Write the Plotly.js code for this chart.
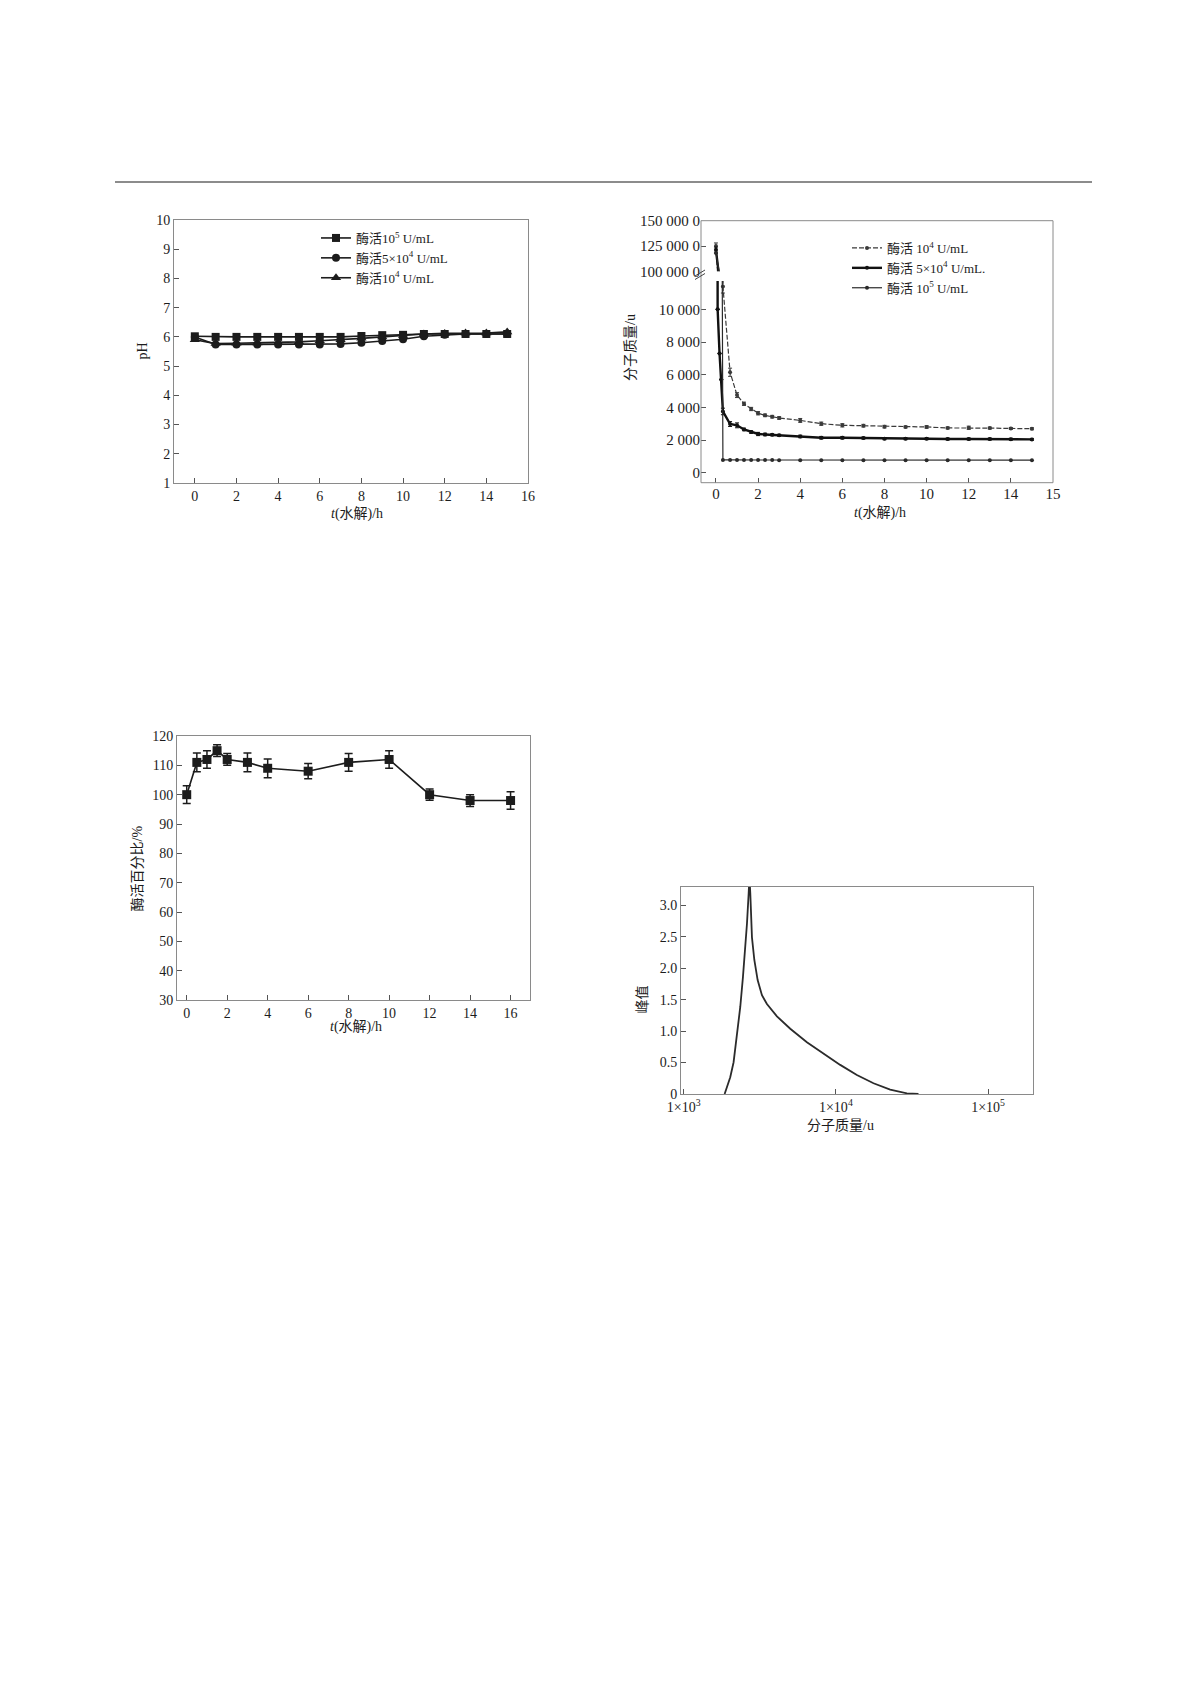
<!DOCTYPE html>
<html>
<head>
<meta charset="utf-8">
<script src="https://cdn.plot.ly/plotly-3.0.1.min.js"></script>
<style>
  html, body { margin: 0; padding: 0; background: #fff; }
  #page { width: 1197px; height: 1693px; }
</style>
</head>
<body>
<div id="page"></div>
<script>
// ---- values ----

// pH during hydrolysis, three enzyme dosages
const phHours = [0, 1, 2, 3, 4, 5, 6, 7, 8, 9, 10, 11, 12, 13, 14, 15]
const ph1e5 = [6.02, 6.0, 6.0, 6.0, 6.0, 6.0, 6.0, 6.0, 6.03, 6.06, 6.07, 6.1, 6.1, 6.1, 6.1, 6.1]
const ph5e4 = [6.0, 5.74, 5.74, 5.74, 5.74, 5.74, 5.74, 5.76, 5.8, 5.86, 5.92, 6.02, 6.07, 6.1, 6.1, 6.1]
const ph1e4 = [5.9, 5.77, 5.78, 5.79, 5.8, 5.83, 5.87, 5.9, 5.95, 6.0, 6.05, 6.1, 6.12, 6.13, 6.13, 6.17]
const phLabels = ['酶活10<sup>5</sup> U/mL', '酶活5×10<sup>4</sup> U/mL', '酶活10<sup>4</sup> U/mL']

// molecular mass during hydrolysis (broken y axis)
const mwHours = [0, 0.33, 0.67, 1, 1.33, 1.67, 2, 2.33, 2.67, 3, 4, 5, 6, 7, 8, 9, 10, 11, 12, 13, 14, 15]
const mw1e4 = [125000, 11400, 6150, 4750, 4220, 3900, 3640, 3510, 3430, 3350, 3200, 3000, 2900, 2880, 2820, 2800, 2800, 2740, 2750, 2730, 2710, 2690]
const mw1e4Err = [3000, 400, 250, 150, 100, 100, 100, 80, 80, 80, 120, 100, 100, 80, 80, 60, 80, 60, 100, 60, 60, 60]
const mw5e4Hours = [0, 0.08, 0.17, 0.25, 0.33, 0.67, 1, 1.33, 1.67, 2, 2.33, 2.67, 3, 4, 5, 6, 7, 8, 9, 10, 11, 12, 13, 14, 15]
const mw5e4 = [121000, 10000, 7300, 5700, 3750, 2980, 2900, 2650, 2490, 2370, 2340, 2320, 2290, 2220, 2140, 2140, 2120, 2080, 2080, 2080, 2060, 2060, 2060, 2050, 2040]
const mw5e4Err = [3000, 0, 0, 0, 200, 150, 150, 80, 80, 100, 80, 60, 60, 80, 80, 80, 60, 60, 60, 60, 60, 60, 60, 60, 60]
const mw1e5 = [118000, 780, 780, 780, 780, 780, 780, 780, 780, 770, 770, 770, 770, 770, 770, 770, 770, 770, 770, 770, 770, 770]
const mwLabels = ['酶活 10<sup>4</sup> U/mL', '酶活 5×10<sup>4</sup> U/mL.', '酶活 10<sup>5</sup> U/mL']
const mwXTicks = [0, 2, 4, 6, 8, 10, 12, 14, 16]
const mwXText = ['0', '2', '4', '6', '8', '10', '12', '14', '15']
const mwLowTicks = [0, 2000, 4000, 6000, 8000, 10000]
const mwLowText = ['0', '2 000', '4 000', '6 000', '8 000', '10 000']
const mwHighTicks = [100000, 125000, 150000]
const mwHighText = ['100 000 0', '125 000 0', '150 000 0']

// residual enzyme activity
const actHours = [0, 0.5, 1, 1.5, 2, 3, 4, 6, 8, 10, 12, 14, 16]
const actPercent = [100, 111, 112, 115, 112, 111, 109, 108, 111, 112, 100, 98, 98]
const actErr = [3, 3.2, 3, 2, 2, 3.2, 3.2, 2.6, 3, 3, 1.9, 2, 3]

// molecular mass distribution of the hydrolysate
const peakMw = [1858, 2023, 2128, 2238, 2354, 2452, 2543, 2606, 2673, 2705, 2740, 2810, 2913, 3062, 3268, 3524, 4100, 5015, 6452, 8302, 10680, 13740, 17670, 22740, 29250, 34890]
const peakHeight = [0, 0.266, 0.505, 0.904, 1.383, 1.862, 2.34, 2.71, 3.19, 3.45, 3.19, 2.49, 2.13, 1.81, 1.57, 1.43, 1.234, 1.037, 0.824, 0.638, 0.463, 0.303, 0.17, 0.069, 0.011, 0]
const peakXTicks = [1000, 10000, 100000]
const peakXText = ['1×10<sup>3</sup>', '1×10<sup>4</sup>', '1×10<sup>5</sup>']
const peakYTicks = [0, 0.5, 1, 1.5, 2, 2.5, 3]
const peakYText = ['0', '0.5', '1.0', '1.5', '2.0', '2.5', '3.0']

// ---- page geometry (pixels on the 1197x1693 page) ----
const W = 1197, H = 1693
const px = v => v / W
const py = v => 1 - v / H

const FONT = "'Liberation Serif', 'Times New Roman', 'Noto Sans CJK SC', serif"
const INK = '#1c1c1c'
const FRAME = '#8a8a8a'

const axis = extra => Object.assign({
	showline: true, mirror: true, linecolor: FRAME, linewidth: 1,
	ticks: 'inside', ticklen: 5, tickwidth: 1, tickcolor: '#555',
	showgrid: false, zeroline: false, automargin: false, fixedrange: true,
	tickfont: { size: 14, color: INK },
}, extra)

const traces = []

// fig: pH
const phMarkers = ['square', 'circle', 'triangle-up']
;[ph1e5, ph5e4, ph1e4].forEach((ys, i) => traces.push({
	x: phHours, y: ys, xaxis: 'x', yaxis: 'y', type: 'scatter', mode: 'lines+markers',
	name: phLabels[i], legend: 'legend',
	line: { color: INK, width: 1.6 },
	marker: { symbol: phMarkers[i], size: i === 2 ? 9 : 8, color: INK },
}))

// fig: molecular mass, each series drawn on the lower and the upper part of the axis
const mwSeries = [
	{ x: mwHours, y: mw1e4, err: mw1e4Err, line: { color: '#3a3a3a', width: 1.2, dash: '5px,2px' } },
	{ x: mw5e4Hours, y: mw5e4, err: mw5e4Err, line: { color: '#111', width: 2.4 } },
	{ x: mwHours, y: mw1e5, err: null, line: { color: '#2a2a2a', width: 1.2 } },
]
mwSeries.forEach((s, i) => {
	for (const ya of ['y2', 'y3']) {
		traces.push({
			x: s.x, y: s.y, xaxis: 'x2', yaxis: ya, type: 'scatter', mode: 'lines+markers',
			name: mwLabels[i], legend: 'legend2', showlegend: ya === 'y2',
			line: s.line,
			marker: { size: 4, color: s.line.color },
			error_y: s.err ? { type: 'data', array: s.err, visible: true, color: s.line.color, thickness: 1, width: 2 } : { visible: false },
		})
	}
})

// fig: enzyme activity
traces.push({
	x: actHours, y: actPercent, xaxis: 'x3', yaxis: 'y4', type: 'scatter', mode: 'lines+markers',
	showlegend: false,
	line: { color: INK, width: 1.6 },
	marker: { symbol: 'square', size: 9, color: INK },
	error_y: { type: 'data', array: actErr, visible: true, color: INK, thickness: 1.5, width: 4 },
})

// fig: molecular mass distribution
traces.push({
	x: peakMw, y: peakHeight, xaxis: 'x4', yaxis: 'y5', type: 'scatter', mode: 'lines',
	showlegend: false,
	line: { color: '#2b2b2b', width: 1.8 },
})

const title = (x, y, text, angle) => ({
	xref: 'paper', yref: 'paper', x: px(x), y: py(y), text, textangle: angle || 0,
	showarrow: false, xanchor: 'center', yanchor: 'middle', font: { size: 14, color: INK },
})

const legendBase = {
	xanchor: 'left', yanchor: 'top', bgcolor: 'rgba(0,0,0,0)', borderwidth: 0,
	font: { size: 13, color: INK }, tracegroupgap: 0, itemclick: false, itemdoubleclick: false,
}

const layout = {
	width: W, height: H,
	margin: { l: 0, r: 0, t: 0, b: 0 },
	paper_bgcolor: '#fff', plot_bgcolor: 'rgba(0,0,0,0)',
	font: { family: FONT, color: INK, size: 14 },
	showlegend: true,
	legend: Object.assign({ x: px(316), y: py(223) }, legendBase),
	legend2: Object.assign({ x: px(847), y: py(233) }, legendBase),

	xaxis: axis({ domain: [px(174), px(528)], anchor: 'y', range: [-1, 16], tick0: 0, dtick: 2 }),
	yaxis: axis({ domain: [py(483), py(220)], anchor: 'x', range: [1, 10], tick0: 1, dtick: 1 }),

	xaxis2: axis({ domain: [px(701), px(1053)], anchor: 'y2', range: [-0.71, 16], tickvals: mwXTicks, ticktext: mwXText, showline: false, mirror: false, tickfont: { size: 15, color: INK } }),
	yaxis2: axis({ domain: [py(482.7), py(281)], anchor: 'x2', range: [-612, 11736], tickvals: mwLowTicks, ticktext: mwLowText, showline: false, mirror: false, tickfont: { size: 15, color: INK } }),
	yaxis3: axis({ domain: [py(271.3), py(220.7)], anchor: 'x2', range: [100000, 150000], tickvals: mwHighTicks, ticktext: mwHighText, showline: false, mirror: false, tickfont: { size: 15, color: INK } }),

	xaxis3: axis({ domain: [px(177), px(530)], anchor: 'y4', range: [-0.48, 16.96], tick0: 0, dtick: 2 }),
	yaxis4: axis({ domain: [py(1000), py(736)], anchor: 'x3', range: [30, 120], tick0: 30, dtick: 10 }),

	xaxis4: axis({ domain: [px(681), px(1033)], anchor: 'y5', type: 'log', range: [2.9825, 5.295], tickvals: peakXTicks, ticktext: peakXText }),
	yaxis5: axis({ domain: [py(1094), py(887)], anchor: 'x4', range: [0, 3.29], tickvals: peakYTicks, ticktext: peakYText }),

	shapes: [
		// rule across the top of the page
		{ type: 'line', xref: 'paper', yref: 'paper', x0: px(115), x1: px(1092), y0: py(182), y1: py(182), line: { color: '#8c8c8c', width: 2 } },
		// frame of the broken-axis chart
		{ type: 'rect', xref: 'paper', yref: 'paper', x0: px(701), x1: px(1053), y0: py(482.7), y1: py(220.7), line: { color: FRAME, width: 1 } },
		// axis break mark
		{ type: 'line', xref: 'paper', yref: 'paper', x0: px(695), x1: px(705), y0: py(276), y1: py(270), line: { color: '#444', width: 1 } },
		{ type: 'line', xref: 'paper', yref: 'paper', x0: px(695), x1: px(705), y0: py(279.5), y1: py(273.5), line: { color: '#444', width: 1 } },
	],

	annotations: [
		title(142, 351.5, 'pH', -90),
		title(357, 514, '<i>t</i>(水解)/h'),
		title(630, 348, '分子质量/u', -90),
		title(880, 513, '<i>t</i>(水解)/h'),
		title(137.5, 869, '酶活百分比/%', -90),
		title(355.5, 1027, '<i>t</i>(水解)/h'),
		title(641.5, 1000, '峰值', -90),
		title(840, 1125, '分子质量/u'),
	],
}

Plotly.newPlot('page', traces, layout, { staticPlot: true, displayModeBar: false })
</script>
</body>
</html>
